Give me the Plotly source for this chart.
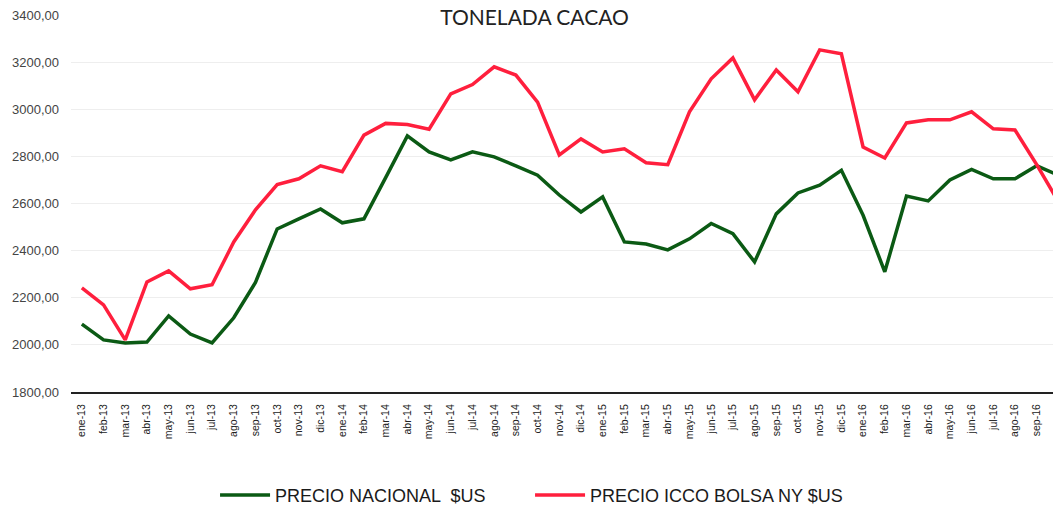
import plotly.graph_objects as go

MONTHS = ["ene", "feb", "mar", "abr", "may", "jun", "jul", "ago", "sep", "oct", "nov", "dic"]
CATEGORIES = [f"{m}-{y}" for y in ("13", "14", "15") for m in MONTHS] + [f"{m}-16" for m in MONTHS[:10]]

PRECIO_NACIONAL = [
    2088, 2021, 2008, 2012, 2123, 2046, 2008, 2115, 2265, 2492, 2535, 2577,
    2518, 2535, 2710, 2887, 2819, 2785, 2819, 2798, 2760, 2720, 2636, 2564,
    2628, 2437, 2428, 2403, 2450, 2515, 2472, 2352, 2556, 2645, 2678, 2741,
    2550, 2310, 2632, 2611, 2700, 2745, 2705, 2705, 2760, 2720,
]
PRECIO_ICCO = [
    2242, 2170, 2021, 2267, 2314, 2238, 2255, 2437, 2573, 2680, 2705, 2760,
    2735, 2890, 2940, 2935, 2915, 3065, 3105, 3180, 3145, 3030, 2806, 2874,
    2819, 2832, 2773, 2765, 2989, 3129, 3218, 3040, 3167, 3074, 3252, 3235,
    2840, 2793, 2942, 2955, 2955, 2989, 2917, 2912, 2765, 2607,
]

Y_TICKS = [1800, 2000, 2200, 2400, 2600, 2800, 3000, 3200, 3400]
Y_TICK_TEXT = [f"{v},00" for v in Y_TICKS]

GREEN = "#0b5a14"
RED = "#ff1f3d"

fig = go.Figure()
fig.add_trace(go.Scatter(x=CATEGORIES, y=PRECIO_NACIONAL, mode="lines", name="PRECIO NACIONAL  $US",
                         line=dict(color=GREEN, width=3.5)))
fig.add_trace(go.Scatter(x=CATEGORIES, y=PRECIO_ICCO, mode="lines", name="PRECIO ICCO BOLSA NY $US",
                         line=dict(color=RED, width=3.5)))

# the page body has an 8px margin, so the figure is sized/offset to fill the window
fig.update_layout(
    width=1053,
    height=507,
    paper_bgcolor="white",
    plot_bgcolor="white",
    margin=dict(l=63, r=0, t=7, b=123, autoexpand=False),
    font=dict(family="Liberation Sans Narrow, Liberation Sans, Arial, sans-serif", color="#333333"),
    title=dict(text="TONELADA CACAO", x=0.5, xanchor="center", y=0.981, yanchor="middle",
               font=dict(family="Lato, Open Sans, sans-serif", size=21, color="#222222")),
    showlegend=True,
    legend=dict(orientation="h", x=0.1455, xanchor="left", y=-0.274, yanchor="middle",
                font=dict(size=18, color="#1a1a1a"), entrywidth=250, itemwidth=50),
)
fig.update_xaxes(
    type="category",
    categoryorder="array",
    categoryarray=CATEGORIES,
    range=[-0.5, 45.12],
    automargin=False,
    tickangle=-90,
    tickfont=dict(size=10.5, color="#222222", family="Liberation Sans, Arial, sans-serif"),
    ticklabelstandoff=6,
    ticklabeloverflow="allow",
    showgrid=False,
    showline=True,
    linecolor="#222222",
    linewidth=2,
    ticks="",
)
fig.update_yaxes(
    range=[1800, 3400],
    automargin=False,
    tickvals=Y_TICKS,
    ticktext=Y_TICK_TEXT,
    tickfont=dict(size=13, color="#444444", family="Liberation Sans Narrow, Liberation Sans, Arial, sans-serif"),
    ticklabelstandoff=11,
    ticklabeloverflow="allow",
    showgrid=True,
    gridcolor="#eeeeee",
    zeroline=False,
    showline=False,
    ticks="",
)

fig.write_html("out.html")
